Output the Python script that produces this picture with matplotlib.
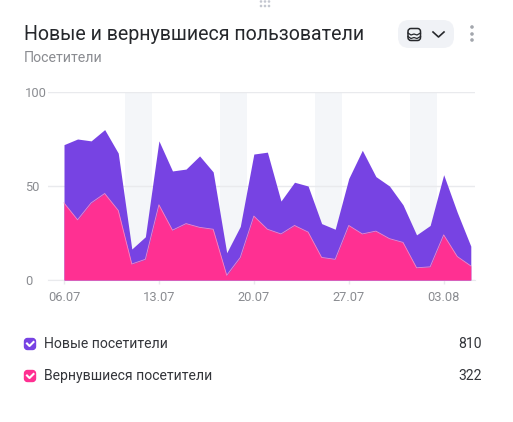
import matplotlib
matplotlib.use("Agg")
import matplotlib.pyplot as plt
from matplotlib.patches import FancyBboxPatch, Circle

plt.rcParams['font.family'] = ['Roboto', 'DejaVu Sans']

W = 513
H = 422

days = ["06.07", "07.07", "08.07", "09.07", "10.07", "11.07", "12.07", "13.07",
        "14.07", "15.07", "16.07", "17.07", "18.07", "19.07", "20.07", "21.07",
        "22.07", "23.07", "24.07", "25.07", "26.07", "27.07", "28.07", "29.07",
        "30.07", "31.07", "01.08", "02.08", "03.08", "04.08", "05.08"]
new_visitors = [72, 75, 74, 80, 67.5, 16.5, 23, 74, 58, 59, 66, 57.5, 14.5, 28.5, 67, 68,
                42, 52, 50, 30, 27, 54, 69, 55, 50, 40, 24, 29, 56, 36, 18]
returning = [41, 32, 41, 46, 37, 8.5, 11, 40, 26.5, 30, 28, 27, 2.5, 12, 34, 27,
             24.5, 29, 25.5, 12, 11, 29, 24.5, 26, 22, 20, 6.5, 7, 24, 12.5, 7.5]
tick_days = ["06.07", "13.07", "20.07", "27.07", "03.08"]
y_ticks = [0, 50, 100]
weekends = [("10.07", "12.07"), ("17.07", "19.07"), ("24.07", "26.07"), ("31.07", "02.08")]
legend_names = ["Новые посетители", "Вернувшиеся посетители"]
legend_totals = ["810", "322"]

PURPLE = "#7743e3"
PINK = "#ff3092"
GRID = "#e9eaed"
GREY = "#8a8c91"

fig = plt.figure(figsize=(W / 100, H / 100), dpi=100)

# plot area in pixels: x 48..475, y 92..280
ax = fig.add_axes([48 / W, 1 - 280 / H, (475 - 48) / W, (280 - 92) / H])
x = list(range(len(days)))
px_per_day = 13.56
ax.set_xlim((48 - 64) / px_per_day, (475 - 64) / px_per_day)
ax.set_ylim(0, 100)

for a, b in weekends:
    ax.axvspan(days.index(a) + 0.52, days.index(b) + 0.5, color="#f4f6f9", lw=0, zorder=1)

ax.fill_between(x, new_visitors, color=PURPLE, lw=0, zorder=3)
ax.fill_between(x, returning, color=PINK, lw=0, zorder=4)
ax.plot(x, returning, color="#f08ac8", lw=0.6, zorder=5)

ax.set_yticks(y_ticks)
ax.set_xticks([days.index(d) for d in tick_days])
ax.set_xticklabels(tick_days)
ax.grid(axis="y", color=GRID, lw=1, zorder=2)
ax.set_axisbelow(False)
ax.tick_params(axis="x", length=3, width=1, color=GRID, labelcolor=GREY, labelsize=9.3, pad=5)
ax.tick_params(axis="y", length=0, labelcolor=GREY, labelsize=9.3, pad=16.5)
for lab in ax.get_yticklabels():
    lab.set_ha("left")
for s in ax.spines.values():
    s.set_visible(False)
ax.spines["bottom"].set_visible(True)
ax.spines["bottom"].set_color(GRID)

# overlay in pixel coordinates for header and legend
ov = fig.add_axes([0, 0, 1, 1], zorder=10)
ov.set_xlim(0, W)
ov.set_ylim(H, 0)
ov.axis("off")
ov.patch.set_alpha(0)

ov.text(24, 34, "Новые и вернувшиеся пользователи", fontsize=14.1, color="#26282c", va="center")
ov.text(24, 58, "Посетители", fontsize=10.2, color=GREY, va="center")

# drag handle
for px in (261, 265, 269):
    for py in (1.5, 6):
        ov.add_patch(Circle((px, py), 1.3, color="#c4c7d0", lw=0))

# data selector button
ov.add_patch(FancyBboxPatch((398, 20), 56, 28, boxstyle="round,pad=0,rounding_size=11",
                            fc="#f0f2f6", ec="none"))
ov.add_patch(FancyBboxPatch((408, 28.5), 12.5, 12, boxstyle="round,pad=0,rounding_size=3",
                            fc="none", ec="#26282c", lw=1.1))
ov.plot([408, 411, 414, 417, 420.5], [33, 35, 34, 35, 33], color="#26282c", lw=0.9)
ov.plot([408, 411, 414, 417, 420.5], [36.5, 38.5, 37.5, 38.5, 36.5], color="#26282c", lw=0.9)
ov.plot([433, 438.5, 444], [32, 37, 32], color="#26282c", lw=1.2)
for py in (27, 34, 40):
    ov.add_patch(Circle((472, py), 1.8, color="#a3a6ad", lw=0))

# legend
for name, total, color, py in zip(legend_names, legend_totals, [PURPLE, PINK], [344, 376]):
    ov.add_patch(FancyBboxPatch((24.5, py - 5.5), 11, 11, boxstyle="round,pad=0,rounding_size=3",
                                fc=color, ec=color, lw=1))
    ov.plot([27, 29.5, 33.5], [py - 0.5, py + 2, py - 2], color="white", lw=1.5)
    ov.text(44.5, py, name, fontsize=10.1, color="#33353a", va="center")
    ov.text(482, py, total, fontsize=10.1, color="#33353a", va="center", ha="right")

fig.savefig("out.png", dpi=100)
